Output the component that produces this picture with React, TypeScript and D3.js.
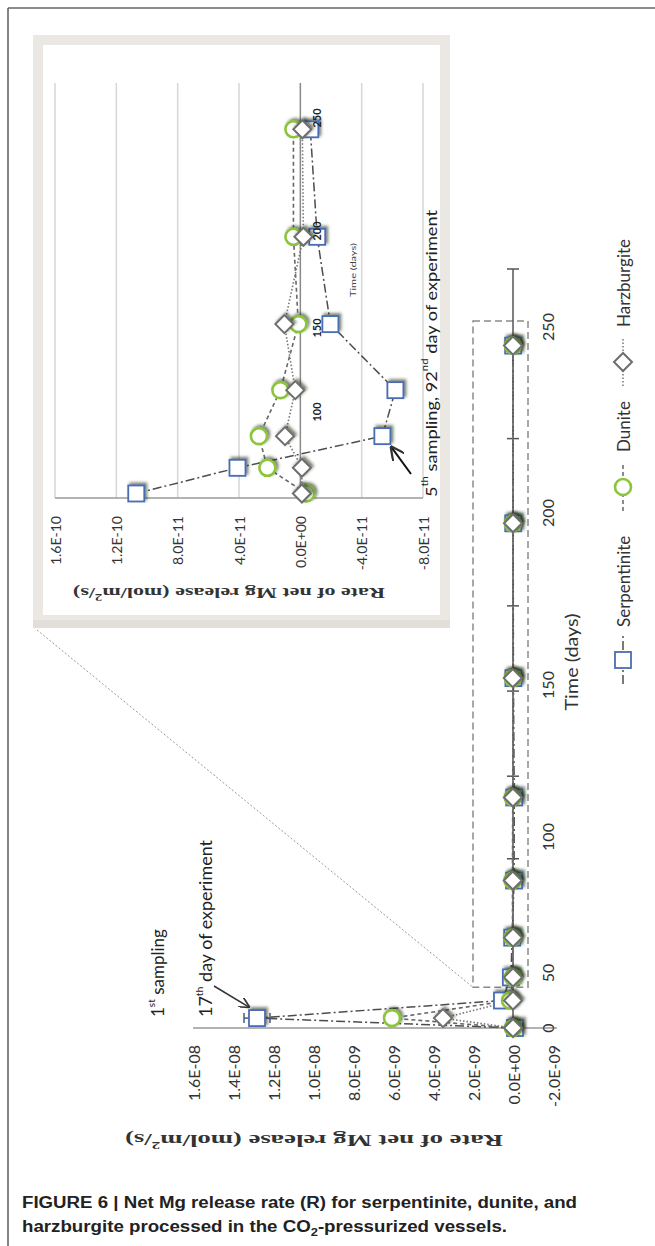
import React from 'react';
import * as d3 from 'd3';

// sampling days and rates, mol/m2/s
const days = [0, 9, 25, 46, 63, 84, 113, 152, 197, 245];
const serpentinite = [-1e-10, 1.28e-8, 5.5e-10, 1.07e-10, 4.1e-11, -5.35e-11, -6.2e-11, -1.96e-11, -1.1e-11, -6.5e-12];
const serpentiniteErr = [0, 6.5e-10, 0, 0, 0, 0, 0, 0, 0, 0];
const dunite = [0, 6.05e-9, 1.5e-10, -3.9e-12, 2.15e-11, 2.7e-11, 1.3e-11, 1.3e-12, 4.5e-12, 4.5e-12];
const harzburgite = [0, 3.5e-9, 0, -1e-12, -1e-12, 1.0e-11, 3.3e-12, 1.04e-11, -2e-12, -1.3e-12];

const mainValueTicks = [-2e-9, 0, 2e-9, 4e-9, 6e-9, 8e-9, 1e-8, 1.2e-8, 1.4e-8, 1.6e-8];
const mainTimeLabels = [0, 50, 100, 150, 200, 250];
const mainTickDays = [0, 61, 92, 120, 148, 173, 197, 220, 243, 266];
const insetValueTicks = [-8e-11, -4e-11, 0, 4e-11, 8e-11, 1.2e-10, 1.6e-10];
const insetTimeLabels = [100, 150, 200, 250];
const insetFirst = 3; // inset shows the 3rd sampling onwards
const zoomBox = { t0: 37, t1: 250, vHi: 2e-9, vLo: -7.5e-10 };

const W = 655;
const H = 1246;

// chart is drawn turned a quarter turn: time runs upward, rate runs leftward
const mainV = d3.scaleLinear().domain([-2e-9, 1.6e-8]).range([553, 193]);
const mainT = d3.scaleLinear().domain([0, 50, 100, 150, 200, 250, 266]).range([1028, 973, 837, 685, 513, 327, 269]);
const insetV = d3.scaleLinear().domain([-8e-11, 1.6e-10]).range([423, 55]);
const insetT = d3.scaleLinear().domain([43, 100, 150, 200, 250, 262]).range([498, 412, 328, 231, 118, 83]);

const sci = (v: number) => {
  const [m, e] = v.toExponential(1).split('e');
  const n = Math.abs(+e);
  return `${m}E${+e < 0 ? '-' : '+'}${n < 10 ? '0' + n : n}`;
};

const FONT = 'Lato, "Open Sans", sans-serif';
const SERIF = '"Liberation Serif", "DejaVu Serif", serif';

type P = { t: number; v: number };
const toPts = (vals: number[]): P[] => vals.map((v, i) => ({ t: days[i], v }));

const series = [
  { name: 'Serpentinite', vals: serpentinite, shape: 'square', color: '#4a6db5', line: '#4d4d4d', dash: '9 3 2 3', lw: 1.5 },
  { name: 'Dunite', vals: dunite, shape: 'circle', color: '#8cc43c', line: '#666', dash: '4 3', lw: 1.6 },
  { name: 'Harzburgite', vals: harzburgite, shape: 'diamond', color: '#6e6e6e', line: '#777', dash: '1.5 2', lw: 1.6 },
];

const Marker = ({ shape, color, x, y }: { shape: string; color: string; x: number; y: number }) => {
  if (shape === 'square')
    return <rect x={x - 8} y={y - 8} width={16} height={16} fill="#fff" stroke={color} strokeWidth={1.8} />;
  if (shape === 'circle')
    return <circle cx={x} cy={y} r={8} fill="#fff" stroke={color} strokeWidth={2.6} />;
  return (
    <path d={`M${x},${y - 9}L${x + 9},${y}L${x},${y + 9}L${x - 9},${y}Z`} fill="#fff" stroke={color} strokeWidth={2} />
  );
};

const RotText = ({ x, y, anchor = 'middle', size = 16, children, ...rest }: any) => (
  <text
    transform={`translate(${x},${y}) rotate(-90)`}
    textAnchor={anchor}
    dominantBaseline="central"
    fontFamily={FONT}
    fontSize={size}
    fill="#222"
    {...rest}
  >
    {children}
  </text>
);

const Sup = ({ children, size = 10 }: any) => (
  <>
    <tspan dy={-6} fontSize={size}>{children}</tspan>
    <tspan dy={6}> </tspan>
  </>
);

const App: React.FC = () => {
  const mainLine = d3.line<P>().x(d => mainV(d.v)).y(d => mainT(d.t));
  const insetLine = d3.line<P>().x(d => insetV(d.v)).y(d => insetT(d.t));

  return (
    <svg width={W} height={H} style={{ position: 'absolute', left: 0, top: 0, background: '#fff' }}>
      <defs>
        <filter id="sh" x="-60%" y="-60%" width="220%" height="220%">
          <feDropShadow dx={2} dy={-2} stdDeviation={1.8} floodColor="#1c2a14" floodOpacity={0.6} />
        </filter>
        <marker id="arrow" viewBox="0 0 10 10" refX={9} refY={5} markerWidth={7} markerHeight={7} orient="auto">
          <path d="M0,0L10,5L0,10" fill="none" stroke="#333" strokeWidth={1.6} />
        </marker>
      </defs>

      {/* page frame */}
      <line x1={8} y1={8} x2={W} y2={8} stroke="#666" strokeWidth={1.6} />
      <line x1={8} y1={8} x2={8} y2={H} stroke="#666" strokeWidth={1.6} />

      {/* ===== main chart ===== */}
      {/* zoom box and connector */}
      <line x1={37} y1={630} x2={mainV(zoomBox.vHi)} y2={mainT(zoomBox.t0)} stroke="#999" strokeWidth={1} strokeDasharray="2 2" />
      <rect
        x={mainV(zoomBox.vHi)}
        y={mainT(zoomBox.t1) - 6}
        width={mainV(zoomBox.vLo) - mainV(zoomBox.vHi)}
        height={mainT(zoomBox.t0) - mainT(zoomBox.t1) + 6}
        fill="none"
        stroke="#8a8a8a"
        strokeWidth={1.5}
        strokeDasharray="7 4"
      />

      {/* rate axis (at day 0) */}
      <line x1={mainV(1.6e-8)} x2={mainV(-2e-9) + 4} y1={mainT(0)} y2={mainT(0)} stroke="#999" strokeWidth={1.5} />
      {mainValueTicks.map(v => (
        <RotText key={v} x={mainV(v)} y={mainT(0) + 17} anchor="end" size={16} fill="#333">
          {sci(v)}
        </RotText>
      ))}
      <text
        transform={`translate(314,1140) rotate(180)`}
        textAnchor="middle"
        dominantBaseline="central"
        fontFamily={SERIF}
        fontWeight="bold"
        fontSize={17}
        fill="#333"
        textLength={378}
        lengthAdjust="spacingAndGlyphs"
      >
        Rate of net Mg release (mol/m<tspan dy={-6} fontSize={11}>2</tspan><tspan dy={6}>/s)</tspan>
      </text>

      {/* time axis (at rate 0) */}
      <line x1={mainV(0)} x2={mainV(0)} y1={mainT(0)} y2={mainT(266)} stroke="#555" strokeWidth={1.5} />
      {mainTickDays.map(t => (
        <line key={t} x1={mainV(0) - 6} x2={mainV(0) + 6} y1={mainT(t)} y2={mainT(t)} stroke="#555" strokeWidth={1.5} />
      ))}
      {mainTimeLabels.map(t => (
        <RotText key={t} x={547} y={mainT(t)} size={16} fill="#333">
          {t}
        </RotText>
      ))}
      <RotText x={571} y={662} size={17} textLength={97} lengthAdjust="spacingAndGlyphs" fill="#333">
        Time (days)
      </RotText>

      {/* series lines */}
      {series.map(s => (
        <path
          key={s.name}
          d={mainLine(toPts(s.vals)) || ''}
          fill="none"
          stroke={s.line}
          strokeWidth={s.lw}
          strokeDasharray={s.dash}
        />
      ))}
      {/* error bars */}
      {serpentiniteErr.map((e, i) =>
        e > 0 ? (
          <g key={i} stroke="#4a5a7a" strokeWidth={1.5}>
            <line x1={mainV(serpentinite[i] + e)} x2={mainV(serpentinite[i] - e)} y1={mainT(days[i])} y2={mainT(days[i])} />
            <line x1={mainV(serpentinite[i] + e)} x2={mainV(serpentinite[i] + e)} y1={mainT(days[i]) - 5} y2={mainT(days[i]) + 5} />
            <line x1={mainV(serpentinite[i] - e)} x2={mainV(serpentinite[i] - e)} y1={mainT(days[i]) - 5} y2={mainT(days[i]) + 5} />
          </g>
        ) : null
      )}
      {series.map(s => (
        <g key={s.name} filter="url(#sh)">
          {toPts(s.vals).map((d, i) => (
            <Marker key={i} shape={s.shape} color={s.color} x={mainV(d.v)} y={mainT(d.t)} />
          ))}
        </g>
      ))}

      {/* 1st sampling note */}
      <RotText x={157} y={1017} anchor="start" size={17}>
        1<Sup>st</Sup>sampling
      </RotText>
      <RotText x={205} y={1017} anchor="start" size={17} textLength={177} lengthAdjust="spacingAndGlyphs">
        17<Sup>th</Sup>day of experiment
      </RotText>
      <line x1={214} y1={986} x2={mainV(serpentinite[1]) - 8} y2={mainT(days[1]) - 11} stroke="#333" strokeWidth={1.5} markerEnd="url(#arrow)" />

      {/* legend */}
      {series.map((s, i) => {
        const ly = [660, 487, 362][i];
        const ty = [627, 452, 327][i];
        return (
          <g key={s.name}>
            <line x1={623} x2={623} y1={ly + 24} y2={ly - 24} stroke={s.line} strokeWidth={1.5} strokeDasharray={s.dash} />
            <Marker shape={s.shape} color={s.color} x={623} y={ly} />
            <RotText x={623} y={ty} anchor="start" size={17} fill="#333">
              {s.name}
            </RotText>
          </g>
        );
      })}

      {/* ===== inset ===== */}
      <rect x={38} y={40} width={407} height={580} fill="#fff" stroke="#ebe8e4" strokeWidth={10} />
      <line x1={33} x2={450} y1={624} y2={624} stroke="#e2ded9" strokeWidth={8} />

      {insetValueTicks.map(v => (
        <line
          key={v}
          x1={insetV(v)}
          x2={insetV(v)}
          y1={insetT(262)}
          y2={insetT(43)}
          stroke={v === 0 ? '#8a8a8a' : '#d6d6d6'}
          strokeWidth={1.5}
        />
      ))}
      <line x1={insetV(1.6e-10)} x2={insetV(-8e-11)} y1={insetT(43)} y2={insetT(43)} stroke="#9a9a9a" strokeWidth={1.5} />
      {insetValueTicks.map(v => (
        <RotText key={v} x={insetV(v)} y={insetT(43) + 18} anchor="end" size={14} fill="#333">
          {sci(v)}
        </RotText>
      ))}
      <RotText x={353} y={297} anchor="start" size={8} textLength={54} lengthAdjust="spacingAndGlyphs" fill="#444">
        Time (days)
      </RotText>
      <text
        transform={`translate(229,593) rotate(180)`}
        textAnchor="middle"
        dominantBaseline="central"
        fontFamily={SERIF}
        fontWeight="bold"
        fontSize={15}
        fill="#333"
        textLength={312}
        lengthAdjust="spacingAndGlyphs"
      >
        Rate of net Mg release (mol/m<tspan dy={-5} fontSize={10}>2</tspan><tspan dy={5}>/s)</tspan>
      </text>

      {series.map(s => (
        <path
          key={s.name}
          d={insetLine(toPts(s.vals).slice(insetFirst)) || ''}
          fill="none"
          stroke={s.line}
          strokeWidth={s.lw}
          strokeDasharray={s.dash}
        />
      ))}
      {series.map(s => (
        <g key={s.name} filter="url(#sh)">
          {toPts(s.vals)
            .slice(insetFirst)
            .map((d, i) => (
              <Marker key={i} shape={s.shape} color={s.color} x={insetV(d.v)} y={insetT(d.t)} />
            ))}
        </g>
      ))}
      {insetTimeLabels.map(t => (
        <RotText key={t} x={316} y={insetT(t)} size={11} fontWeight="bold" fill="#222">
          {t}
        </RotText>
      ))}

      {/* 5th sampling note */}
      <line
        x1={411}
        y1={474}
        x2={insetV(serpentinite[5]) + 9}
        y2={insetT(days[5]) + 11}
        stroke="#111"
        strokeWidth={2}
        markerEnd="url(#arrow)"
      />
      <RotText x={430} y={497} anchor="start" size={16} textLength={287} lengthAdjust="spacingAndGlyphs">
        5<Sup>th</Sup>sampling, 92<Sup>nd</Sup>day of experiment
      </RotText>

      {/* caption */}
      <text x={22} y={1208} fontFamily='"Liberation Sans", Arial, sans-serif' fontWeight="bold" fontSize={16} fill="#222" textLength={555} lengthAdjust="spacingAndGlyphs">
        FIGURE 6 | Net Mg release rate (R) for serpentinite, dunite, and
      </text>
      <text x={22} y={1232} fontFamily='"Liberation Sans", Arial, sans-serif' fontWeight="bold" fontSize={16} fill="#222" textLength={485} lengthAdjust="spacingAndGlyphs">
        harzburgite processed in the CO<tspan dy={4} fontSize={11}>2</tspan><tspan dy={-4}>-pressurized vessels.</tspan>
      </text>
    </svg>
  );
};

export default App;
